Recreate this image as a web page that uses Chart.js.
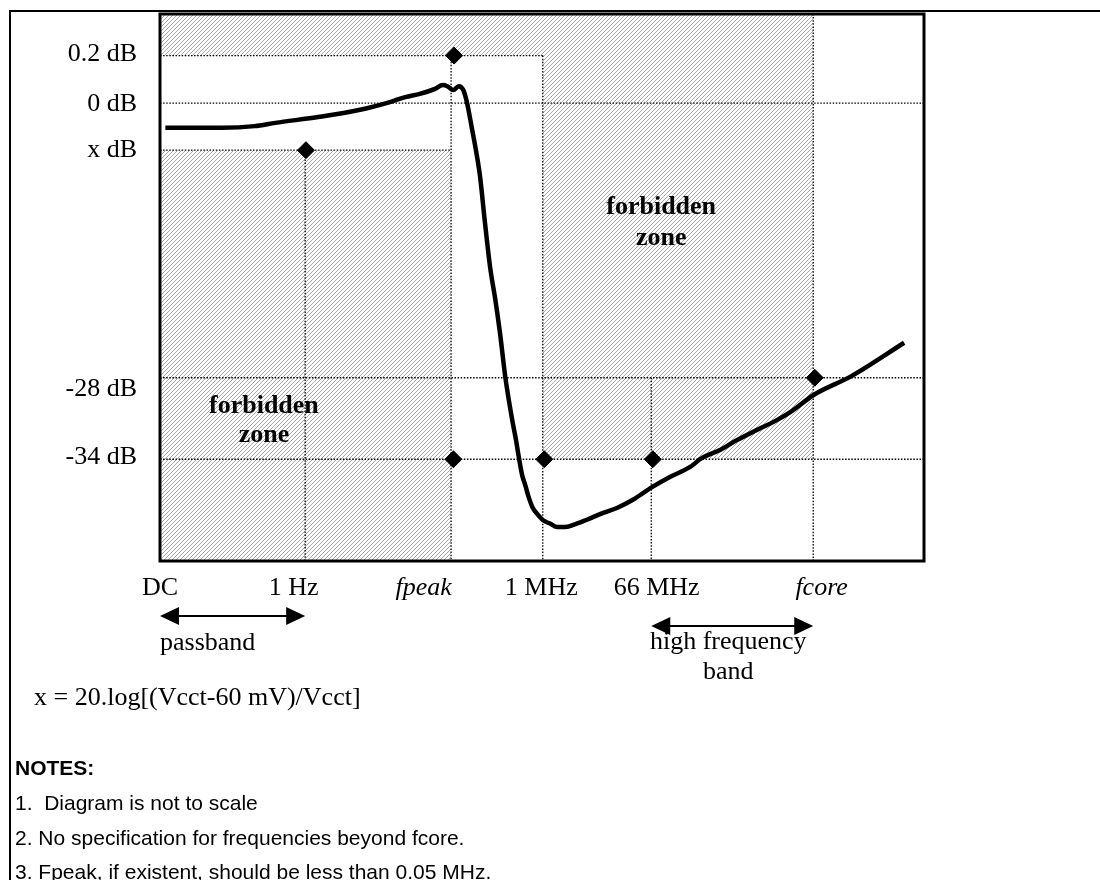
<!DOCTYPE html>
<html><head><meta charset="utf-8">
<script src="https://cdn.jsdelivr.net/npm/chart.js@4.4.1/dist/chart.umd.min.js"></script>
<style>
html,body{margin:0;padding:0;background:#fff;}
#wrap{position:absolute;left:0;top:0;width:1100px;height:880px;overflow:hidden;background:#fff;}
#frame{position:absolute;left:9px;top:10px;width:1200px;height:1000px;border-left:2px solid #000;border-top:2px solid #000;}
#box{position:absolute;left:0;top:0;width:1100px;height:880px;}
.t{position:absolute;white-space:pre;color:#000;}
.serif{font-family:"Liberation Serif","Times New Roman",serif;font-size:26px;line-height:30px;}
.sans{font-family:"Liberation Sans",Arial,sans-serif;font-size:21px;line-height:24px;}
</style></head><body>
<div id="wrap">
<div id="frame"></div>
<div id="box"><canvas id="cv"></canvas></div>
<div class="t serif" style="left:34px;top:682px">x = 20.log[(Vcct-60 mV)/Vcct]</div>
<div class="t sans" style="left:15px;top:756px;font-weight:bold">NOTES:</div>
<div class="t sans" style="left:15px;top:791px">1.&nbsp; Diagram is not to scale</div>
<div class="t sans" style="left:15px;top:826px">2. No specification for frequencies beyond fcore.</div>
<div class="t sans" style="left:15px;top:860px">3. Fpeak, if existent, should be less than 0.05 MHz.</div>
</div>
<script>
// ---- Data (diagram units: the diagram is not to scale) ----
const xTickLabels = ['DC', '1 Hz', 'fpeak', '1 MHz', '66 MHz', 'fcore'];
const xLabelPos   = [0, 17.5, 34.5, 49.9, 65.0, 86.6];
const yTickLabels = ['0.2 dB', '0 dB', 'x dB', '-28 dB', '-34 dB'];
const yLabelPos   = [92.6, 83.5, 75.1, 31.4, 19.0];

// frequency grid: 1 Hz, fpeak, 1 MHz, 66 MHz, fcore
const freqGrid = [19.0, 38.1, 50.1, 64.3, 85.5];
// gain grid: 0.2 dB, 0 dB, x dB, -28 dB, -34 dB
const gainGrid = [92.4, 83.7, 75.1, 33.5, 18.6];

// specification points (diamonds)
const specX = [19.1, 38.5, 38.4, 50.3, 64.5, 85.7];
const specY = [75.1, 92.4, 18.6, 18.6, 18.6, 33.5];

// measured response curve
const respX = [0.7, 8.1, 12.4, 15.1, 20.9, 26.2, 30.1, 32.1, 34.0, 36.0, 37.0, 37.6, 38.4, 39.1, 39.7, 40.2, 40.8, 41.5, 41.9, 42.5, 43.2, 43.9, 44.5, 45.2, 46.1, 46.6, 47.0, 47.4, 47.8, 48.3, 48.8, 49.5, 50.1, 51.1, 52.0, 53.0, 54.1, 55.8, 58.0, 59.8, 61.9, 64.4, 66.8, 69.4, 70.9, 73.3, 75.5, 77.6, 80.8, 82.5, 85.6, 90.5, 97.4];
const respY = [79.2, 79.2, 79.5, 80.1, 81.2, 82.5, 83.9, 84.8, 85.4, 86.3, 87.0, 86.8, 86.1, 86.8, 86.1, 83.7, 79.3, 73.9, 70.2, 62.3, 53.8, 47.7, 41.7, 33.6, 25.8, 22.1, 18.7, 15.7, 13.9, 11.5, 9.7, 8.4, 7.5, 6.8, 6.2, 6.2, 6.6, 7.5, 8.8, 9.7, 11.2, 13.5, 15.4, 17.2, 18.8, 20.3, 22.1, 23.6, 25.8, 27.2, 30.4, 33.8, 39.9];

const X_MIN = 0, X_MAX = 100, Y_MIN = 0, Y_MAX = 100;

// ---- hatch pattern ----
function makeHatch(){
  const c = document.createElement('canvas');
  c.width = 4; c.height = 4;
  const g = c.getContext('2d');
  g.strokeStyle = '#a8a8a8'; g.lineWidth = 1;
  g.beginPath();
  g.moveTo(-1, 5); g.lineTo(5, -1);
  g.moveTo(-1, 1); g.lineTo(1, -1);
  g.moveTo(3, 5); g.lineTo(5, 3);
  g.stroke();
  return g.createPattern(c, 'repeat');
}
const hatch = makeHatch();

const pts = (xs, ys) => xs.map((v, i) => ({x: v, y: ys[i]}));
const [G02, G0, GX, G28, G34] = gainGrid;
const [F1, FP, FM, F66, FC] = freqGrid;

const guideSegs = [
  [[X_MIN, G02], [FM, G02]],
  [[X_MIN, G0], [X_MAX, G0]],
  [[X_MIN, GX], [FP, GX]],
  [[X_MIN, G28], [X_MAX, G28]],
  [[X_MIN, G34], [X_MAX, G34]],
  [[F1, GX], [F1, Y_MIN]],
  [[FP, G02], [FP, Y_MIN]],
  [[FM, G02], [FM, Y_MIN]],
  [[F66, G28], [F66, Y_MIN]],
  [[FC, Y_MAX], [FC, Y_MIN]]
];

const datasets = [
  { label: 'spec', data: pts(specX, specY), showLine: false, pointStyle: 'rectRot',
    pointRadius: 8.5, pointBackgroundColor: '#000', pointBorderColor: '#000', pointBorderWidth: 1 },
  { label: 'response', data: pts(respX, respY), borderColor: '#000', borderWidth: 4.5,
    pointRadius: 0, cubicInterpolationMode: 'monotone', fill: false, borderCapStyle: 'butt', borderJoinStyle: 'round' }
];
guideSegs.forEach(s => datasets.push({
  label: 'guide', data: s.map(p => ({x: p[0], y: p[1]})), borderColor: '#000', borderWidth: 1.3,
  borderDash: [1.5, 1.6], pointRadius: 0, tension: 0, fill: false
}));
// forbidden zones (hatched)
datasets.push({ label: 'zoneUpper',
  data: [{x: X_MIN, y: G02}, {x: FM, y: G02}, {x: FM, y: G34}, {x: FC, y: G34}],
  borderWidth: 0, borderColor: 'rgba(0,0,0,0)', pointRadius: 0, tension: 0,
  backgroundColor: hatch, fill: 'end' });
datasets.push({ label: 'zoneLower',
  data: [{x: X_MIN, y: GX}, {x: FP, y: GX}],
  borderWidth: 0, borderColor: 'rgba(0,0,0,0)', pointRadius: 0, tension: 0,
  backgroundColor: hatch, fill: 'start' });

const SERIF = '"Liberation Serif", "Times New Roman", serif';
const FS = 26;
const italicTicks = ['fpeak', 'fcore'];

function arrow(ctx, x1, x2, y){
  const L = 19, H = 9;
  ctx.lineWidth = 2; ctx.strokeStyle = '#000'; ctx.fillStyle = '#000';
  ctx.beginPath(); ctx.moveTo(x1 + L - 2, y); ctx.lineTo(x2 - L + 2, y); ctx.stroke();
  ctx.beginPath(); ctx.moveTo(x1, y); ctx.lineTo(x1 + L, y - H); ctx.lineTo(x1 + L, y + H); ctx.closePath(); ctx.fill();
  ctx.beginPath(); ctx.moveTo(x2, y); ctx.lineTo(x2 - L, y - H); ctx.lineTo(x2 - L, y + H); ctx.closePath(); ctx.fill();
}

const annot = {
  id: 'annot',
  afterDraw(chart){
    const {ctx, chartArea: a} = chart;
    const x = chart.scales.x, y = chart.scales.y;
    ctx.save();
    // plot frame
    ctx.strokeStyle = '#000'; ctx.lineWidth = 3;
    ctx.strokeRect(a.left, a.top, a.right - a.left, a.bottom - a.top);
    // forbidden zone labels
    ctx.fillStyle = '#000';
    ctx.font = 'bold ' + FS + 'px ' + SERIF;
    ctx.textAlign = 'center'; ctx.textBaseline = 'middle';
    ctx.fillText('forbidden', x.getPixelForValue(65.6), y.getPixelForValue(64.7));
    ctx.fillText('zone', x.getPixelForValue(65.6), y.getPixelForValue(59.0));
    ctx.fillText('forbidden', x.getPixelForValue(13.6), y.getPixelForValue(28.3));
    ctx.fillText('zone', x.getPixelForValue(13.6), y.getPixelForValue(23.0));
    // band arrows
    const pbY = a.bottom + 55, hfY = a.bottom + 65;
    arrow(ctx, x.getPixelForValue(X_MIN), x.getPixelForValue(F1), pbY);
    arrow(ctx, x.getPixelForValue(F66), x.getPixelForValue(FC), hfY);
    ctx.font = FS + 'px ' + SERIF;
    ctx.textAlign = 'left';
    ctx.fillText('passband', x.getPixelForValue(X_MIN), a.bottom + 82);
    ctx.textAlign = 'center';
    const hc = (x.getPixelForValue(F66) + x.getPixelForValue(FC)) / 2 - 4;
    ctx.fillText('high frequency', hc, a.bottom + 81);
    ctx.fillText('band', hc, a.bottom + 111);
    ctx.restore();
  }
};

new Chart(document.getElementById('cv'), {
  type: 'line',
  data: { datasets },
  options: {
    responsive: true, maintainAspectRatio: false, animation: false,
    events: [],
    layout: { padding: { left: 0, top: 14, right: 176, bottom: 279 } },
    plugins: { legend: { display: false }, tooltip: { enabled: false },
      filler: { propagate: false } },
    scales: {
      x: { type: 'linear', min: X_MIN, max: X_MAX, display: false },
      y: { type: 'linear', min: Y_MIN, max: Y_MAX, display: false },
      xl: { type: 'linear', position: 'bottom', min: X_MIN, max: X_MAX,
        grid: { display: false, drawTicks: false }, border: { display: false },
        afterBuildTicks: s => { s.ticks = xLabelPos.map(v => ({value: v})); },
        afterFit: s => { s.height = 40; s.paddingLeft = 0; s.paddingRight = 0; },
        ticks: { autoSkip: false, maxRotation: 0, minRotation: 0, padding: 12, color: '#000',
          callback: (v, i) => xTickLabels[i],
          font: c => ({ family: SERIF, size: FS,
            style: (c.tick && italicTicks.includes(xTickLabels[c.index])) ? 'italic' : 'normal' }) } },
      yl: { type: 'linear', position: 'left', min: Y_MIN, max: Y_MAX,
        grid: { display: false, drawTicks: false }, border: { display: false },
        afterBuildTicks: s => { s.ticks = yLabelPos.map(v => ({value: v})); },
        afterFit: s => { s.width = 160; s.paddingTop = 0; s.paddingBottom = 0; },
        ticks: { autoSkip: false, padding: 23, color: '#000',
          callback: (v, i) => yTickLabels[i],
          font: { family: SERIF, size: FS } } }
    }
  },
  plugins: [annot]
});
</script>
</body></html>
